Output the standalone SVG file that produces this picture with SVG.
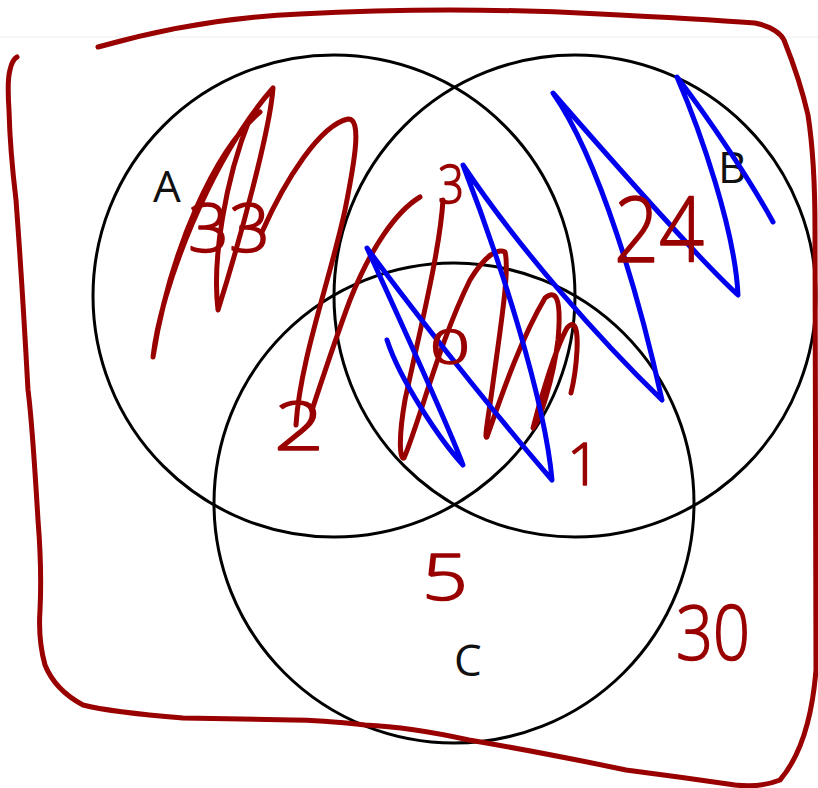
<svg xmlns="http://www.w3.org/2000/svg" width="818" height="788" viewBox="0 0 818 788">
<style>
.set{fill:none;stroke:#000;stroke-width:3}
.lbl{font-family:"Open Sans","DejaVu Sans",sans-serif;font-size:44px;fill:#111}
.ink{fill:none;stroke:#990000;stroke-width:5;stroke-linecap:round;stroke-linejoin:round}
.blue{fill:none;stroke:#0000ee;stroke-width:5;stroke-linecap:round;stroke-linejoin:round}
.num{font-family:"Open Sans","DejaVu Sans",sans-serif;font-weight:300;fill:#990000;stroke:#990000;stroke-width:1.6;stroke-linejoin:round}
</style>
<rect width="818" height="788" fill="#fff"/>
<line x1="0" y1="37" x2="818" y2="37" stroke="#eeeeee" stroke-width="1"/>
<g id="setA"><circle class="set" cx="334" cy="296" r="241"/><text class="lbl" x="153" y="202">A</text></g>
<g id="setB"><circle class="set" cx="575" cy="296" r="241"/><text class="lbl" x="718" y="183">B</text></g>
<g id="setC"><circle class="set" cx="454" cy="503" r="240"/><text class="lbl" x="454" y="676">C</text></g>
<g id="connectors">
<path id="frame" class="ink" d="M98,47 Q200,18 300,14 Q450,6 600,14 Q700,19 755,23 Q778,28 784,40 Q800,80 808,115 Q815,160 815,230 L816,670 Q810,745 780,780 Q760,788 735,785 Q680,777 626,770 Q540,752 469,740 Q410,727 365,725 Q320,720 292,720 L183,718 Q110,712 83,705 Q55,690 45,665 Q38,640 40,610 Q42,570 38,520 Q32,420 28,390 Q22,280 16,200 Q10,150 9,110 Q7,80 10,70 Q12,60 17,57"/>
<path id="scribbleA" class="ink" d="M260,112 C215,150 170,250 153,357 C160,290 210,160 273,88 C270,130 240,240 218,310 C212,260 225,180 250,118"/>
<path id="arch" class="ink" d="M262,232 C285,180 320,125 348,119 C362,118 355,160 345,210 C330,280 300,360 296,425"/>
<path id="toTwo" class="ink" d="M420,197 C395,212 370,250 350,300 C335,340 322,380 312,410"/>
<path id="zigzag" class="ink" d="M443,200 C440,250 420,330 405,400 C398,440 400,460 404,458 C420,420 440,340 470,280 C485,255 498,248 505,252 C510,270 500,330 493,383 C488,420 484,440 487,437 C500,400 520,340 545,298 C555,290 562,295 558,340 C553,380 540,420 533,428 C540,400 555,350 567,328 C575,318 578,330 577,350 C576,370 573,385 571,393"/>
<path id="blueZigzag" class="blue" d="M387,340 C400,380 440,440 463,465 C450,430 400,320 367,248 C420,320 500,420 552,480 C545,400 500,260 463,165 C520,250 600,340 662,400 C640,300 600,160 553,93 C620,170 700,260 738,295 C735,230 700,130 677,77 C710,120 750,180 773,222"/>
</g>
<g id="counts">
<text class="num" x="188" y="252" font-size="66" textLength="82" lengthAdjust="spacingAndGlyphs">33</text>
<text class="num" x="438" y="203" font-size="54" textLength="26" lengthAdjust="spacingAndGlyphs">3</text>
<text class="num" x="430" y="364" font-size="48" textLength="40" lengthAdjust="spacingAndGlyphs">0</text>
<text class="num" x="274" y="450" font-size="66" textLength="50" lengthAdjust="spacingAndGlyphs">2</text>
<text class="num" x="567" y="485" font-size="58">1</text>
<text class="num" x="422" y="600" font-size="64" textLength="46" lengthAdjust="spacingAndGlyphs">5</text>
<text class="num" x="614" y="262" font-size="90" textLength="90" lengthAdjust="spacingAndGlyphs">24</text>
<text class="num" x="676" y="660" font-size="75" textLength="74" lengthAdjust="spacingAndGlyphs">30</text>
</g>
</svg>
